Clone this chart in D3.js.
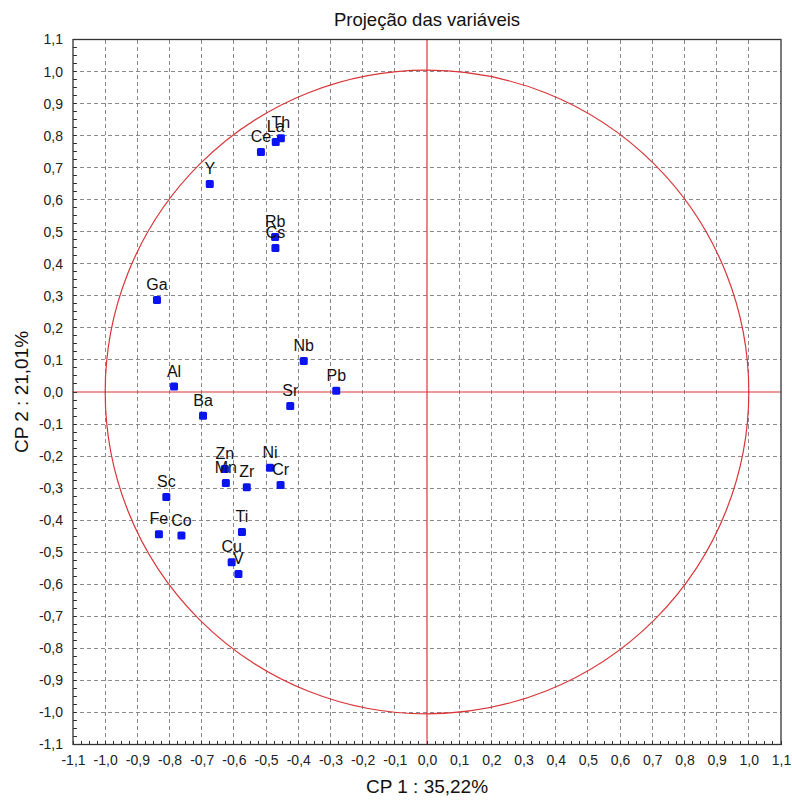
<!DOCTYPE html>
<html>
<head>
<meta charset="utf-8">
<script src="https://cdn.jsdelivr.net/npm/d3@7"></script>
<style>
  html, body { margin: 0; padding: 0; background: #fff; }
  svg { display: block; font-family: "Liberation Sans", Arial, sans-serif; }
</style>
</head>
<body>
<svg id="chart" width="792" height="800"></svg>
<script>
// Variable loadings on the first two principal components
const variables = ["Th", "La", "Ce", "Y", "Rb", "Cs", "Ga", "Nb", "Al", "Pb", "Sr", "Ba",
                   "Zn", "Ni", "Mn", "Zr", "Cr", "Sc", "Fe", "Co", "Ti", "Cu", "V"];
const cp1 = [-0.454, -0.470, -0.516, -0.675, -0.472, -0.471, -0.839, -0.383, -0.786, -0.282, -0.425, -0.696,
             -0.628, -0.488, -0.625, -0.560, -0.455, -0.810, -0.833, -0.763, -0.575, -0.607, -0.586];
const cp2 = [0.792, 0.780, 0.749, 0.649, 0.484, 0.449, 0.287, 0.097, 0.017, 0.004, -0.044, -0.074,
             -0.240, -0.236, -0.284, -0.297, -0.290, -0.328, -0.444, -0.448, -0.437, -0.531, -0.568];

const tickValues = [-1.1, -1.0, -0.9, -0.8, -0.7, -0.6, -0.5, -0.4, -0.3, -0.2, -0.1, 0.0,
                    0.1, 0.2, 0.3, 0.4, 0.5, 0.6, 0.7, 0.8, 0.9, 1.0, 1.1];
const titleText = "Projeção das variáveis";
const xTitle = "CP 1 : 35,22%";
const yTitle = "CP 2 : 21,01%";

const W = 792, H = 800;
const margin = { left: 73, right: 11, top: 39.5, bottom: 55.5 };
const iw = W - margin.left - margin.right;
const ih = H - margin.top - margin.bottom;

const x = d3.scaleLinear().domain([-1.1, 1.1]).range([0, iw]);
const y = d3.scaleLinear().domain([-1.1, 1.1]).range([ih, 0]);

const locale = d3.formatLocale({ decimal: ",", thousands: ".", grouping: [3], currency: ["", ""], minus: "-" });
const fmt = locale.format(".1f");

const svg = d3.select("#chart");
const g = svg.append("g").attr("transform", `translate(${margin.left},${margin.top})`);

// Dashed grid at every 0.1 inside the frame
const inner = tickValues.filter(v => Math.abs(v) < 1.05 && Math.abs(v) > 1e-9);
g.append("g").selectAll("line").data(inner).join("line")
  .attr("x1", d => x(d)).attr("x2", d => x(d))
  .attr("y1", 0).attr("y2", ih)
  .attr("stroke", "#8a8a8a").attr("stroke-width", 1).attr("stroke-dasharray", "4,3")
  .attr("shape-rendering", "crispEdges");
g.append("g").selectAll("line").data(inner).join("line")
  .attr("y1", d => y(d)).attr("y2", d => y(d))
  .attr("x1", 0).attr("x2", iw)
  .attr("stroke", "#8a8a8a").attr("stroke-width", 1).attr("stroke-dasharray", "4,3")
  .attr("shape-rendering", "crispEdges");

// Unit correlation circle and the origin cross
const red = "#d9363a";
g.append("circle")
  .attr("cx", x(0)).attr("cy", y(0))
  .attr("r", x(1) - x(0))
  .attr("fill", "none").attr("stroke", red).attr("stroke-width", 1.2);
g.append("line").attr("x1", x(0)).attr("x2", x(0)).attr("y1", 0).attr("y2", ih)
  .attr("stroke", red).attr("stroke-width", 1.2);
g.append("line").attr("y1", y(0)).attr("y2", y(0)).attr("x1", 0).attr("x2", iw)
  .attr("stroke", red).attr("stroke-width", 1.2);

// Axes with labels; minor ticks drawn inward every 0.025
const xAxis = d3.axisBottom(x).tickValues(tickValues).tickFormat(fmt).tickSize(0).tickPadding(11);
const yAxis = d3.axisLeft(y).tickValues(tickValues).tickFormat(fmt).tickSize(0).tickPadding(10);

const gx = g.append("g").attr("transform", `translate(0,${ih})`).call(xAxis);
const gy = g.append("g").call(yAxis);
[gx, gy].forEach(a => {
  a.select(".domain").remove();
  a.selectAll("text").attr("font-size", 14).attr("fill", "#222")
    .attr("font-family", "'Liberation Sans', Arial, sans-serif");
});

const minor = d3.range(-44, 45).map(i => i * 0.025);
g.append("g").selectAll("line").data(minor).join("line")
  .attr("x1", d => x(d)).attr("x2", d => x(d))
  .attr("y1", ih).attr("y2", ih - 4)
  .attr("stroke", "#333").attr("stroke-width", 1).attr("shape-rendering", "crispEdges");
g.append("g").selectAll("line").data(minor).join("line")
  .attr("y1", d => y(d)).attr("y2", d => y(d))
  .attr("x1", 0).attr("x2", 4)
  .attr("stroke", "#333").attr("stroke-width", 1).attr("shape-rendering", "crispEdges");

// Plot frame
g.append("rect").attr("x", 0).attr("y", 0).attr("width", iw).attr("height", ih)
  .attr("fill", "none").attr("stroke", "#333").attr("stroke-width", 1.3);

// Points and their labels
const data = variables.map((v, i) => ({ name: v, a: cp1[i], b: cp2[i] }));
const s = 8;
g.append("g").selectAll("rect").data(data).join("rect")
  .attr("x", d => x(d.a) - s / 2).attr("y", d => y(d.b) - s / 2)
  .attr("width", s).attr("height", s).attr("rx", 1.5)
  .attr("fill", "#0a14f0");
g.append("g").selectAll("text").data(data).join("text")
  .attr("x", d => x(d.a)).attr("y", d => y(d.b) - 10)
  .attr("text-anchor", "middle").attr("font-size", 16).attr("fill", "#111")
  .text(d => d.name);

// Titles
svg.append("text").attr("x", margin.left + iw / 2).attr("y", 26)
  .attr("text-anchor", "middle").attr("font-size", 18.5).attr("fill", "#111").text(titleText);
svg.append("text").attr("x", margin.left + iw / 2).attr("y", 793)
  .attr("text-anchor", "middle").attr("font-size", 19).attr("fill", "#111").text(xTitle);
svg.append("text")
  .attr("transform", `translate(28,${margin.top + ih / 2}) rotate(-90)`)
  .attr("text-anchor", "middle").attr("font-size", 19).attr("fill", "#111").text(yTitle);
</script>
</body>
</html>
